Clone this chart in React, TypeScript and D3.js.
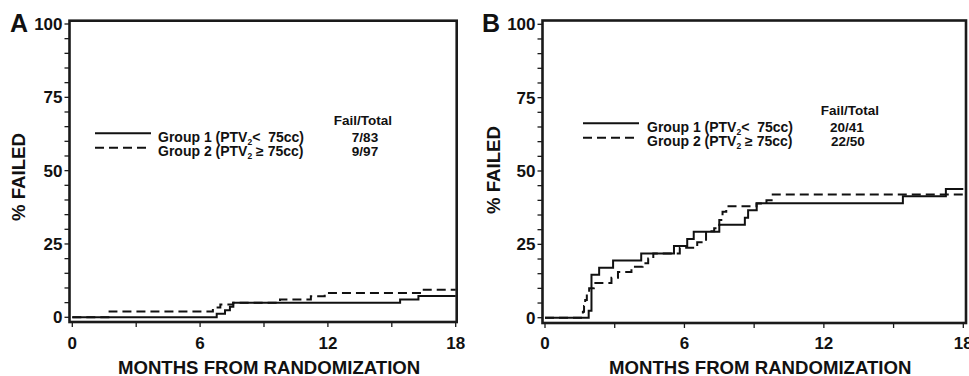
import React from "react";
import * as d3 from "d3";

// ---------- data ----------
const xTicksMajor = [0, 6, 12, 18];
const xTicksMinor = [0, 3, 6, 9, 12, 15, 18];
const yTicksMajor = [0, 25, 50, 75, 100];
const yTicksMinor = d3.range(0, 101, 5);

const groupLabels = ["Group 1 (PTV", "Group 2 (PTV"];
const groupTails = ["<  75cc)", " \u2265 75cc)"];

// Panel A (month, % failed)
const panelA_group1: [number, number][] = [
  [0, 0], [6.78, 1.2], [7.17, 2.4], [7.4, 3.6], [7.56, 5.0],
  [15.39, 6.1], [16.25, 7.3], [18, 7.3],
];
const panelA_group2: [number, number][] = [
  [0, 0], [1.75, 2.0], [6.6, 3.3], [6.95, 4.4], [7.55, 5.0],
  [9.75, 6.1], [11.2, 7.2], [11.85, 8.3], [16.5, 9.4], [18, 9.4],
];
const panelA_failTotal = ["7/83", "9/97"];

// Panel B
const panelB_group1: [number, number][] = [
  [0, 0], [1.88, 2.4], [2.0, 14.6], [2.33, 17.0], [2.93, 19.5],
  [4.14, 21.9], [5.55, 24.4], [6.12, 26.8], [6.4, 29.3], [7.5, 31.7],
  [8.6, 34.1], [8.74, 36.6], [9.11, 39.0], [15.4, 41.4], [17.25, 43.9],
  [18, 43.9],
];
const panelB_group2: [number, number][] = [
  [0, 0], [1.63, 2.0], [1.68, 4.0], [1.73, 6.0], [1.8, 8.0], [1.9, 10.0],
  [2.1, 11.8], [2.86, 13.6], [3.14, 15.6], [3.72, 17.4], [4.2, 18.6],
  [4.44, 20.2], [4.66, 21.9], [5.8, 23.8], [6.55, 25.7], [6.93, 29.5],
  [7.28, 30.5], [7.5, 33.3], [7.64, 36.1], [7.8, 38.0], [9.1, 38.9],
  [9.53, 40.0], [9.8, 42.0], [18, 42.0],
];
const panelB_failTotal = ["20/41", "22/50"];

const FONT = "'Liberation Sans', Arial, Helvetica, sans-serif";

type PanelProps = {
  letter: string;
  frame: { l: number; t: number; r: number; b: number };
  xr: [number, number];
  yr: [number, number];
  g1: [number, number][];
  g2: [number, number][];
  failTotal: string[];
  legend: { lineX: number; lineW1: number; lineW2: number; textX: number; base1: number; ftX: number; numX: number[] };
  letterX: number;
  ylabX: number;
  ylabY: number;
};

function Panel(p: PanelProps) {
  const x = d3.scaleLinear().domain([0, 18]).range(p.xr);
  const y = d3.scaleLinear().domain([0, 100]).range(p.yr);
  const line = d3
    .line<[number, number]>()
    .x((d) => x(d[0]))
    .y((d) => y(d[1]))
    .curve(d3.curveStepAfter);
  const f = p.frame;
  const lg = p.legend;
  const titleX = (f.l + f.r) / 2 + 6;
  return (
    <g fontFamily={FONT} fontWeight="bold" fill="#111">
      {/* curves */}
      <path d={line(p.g1) || ""} fill="none" stroke="#111" strokeWidth={2} />
      <path d={line(p.g2) || ""} fill="none" stroke="#111" strokeWidth={2} strokeDasharray="9,5" />
      {/* frame */}
      <rect x={f.l} y={f.t} width={f.r - f.l} height={f.b - f.t} fill="none" stroke="#1a1a1a" strokeWidth={2.6} />
      {/* y ticks */}
      {yTicksMinor.map((v) => (
        <line key={"yt" + v} x1={f.l - 5} x2={f.l} y1={y(v)} y2={y(v)} stroke="#1a1a1a" strokeWidth={1.3} />
      ))}
      {yTicksMajor.map((v) => (
        <text key={"yl" + v} x={f.l - 7} y={y(v)} dy="0.36em" textAnchor="end" fontSize={17}>
          {v}
        </text>
      ))}
      {/* x ticks */}
      {xTicksMinor.map((v) => (
        <line key={"xt" + v} x1={x(v)} x2={x(v)} y1={f.b} y2={f.b + 5} stroke="#1a1a1a" strokeWidth={1.3} />
      ))}
      {xTicksMajor.map((v) => (
        <text key={"xl" + v} x={x(v)} y={348.5} textAnchor="middle" fontSize={17}>
          {v}
        </text>
      ))}
      {/* titles */}
      <text x={titleX} y={373.5} textAnchor="middle" fontSize={18.6}>
        MONTHS FROM RANDOMIZATION
      </text>
      <text
        transform={`translate(${p.ylabX},${p.ylabY}) rotate(-90)`}
        textAnchor="middle"
        fontSize={18.6}
      >
        % FAILED
      </text>
      <text x={p.letterX} y={31.5} fontSize={25}>
        {p.letter}
      </text>
      {/* legend */}
      <line x1={lg.lineX} x2={lg.lineX + lg.lineW1} y1={lg.base1 - 8.7} y2={lg.base1 - 8.7} stroke="#111" strokeWidth={2} />
      <line
        x1={lg.lineX}
        x2={lg.lineX + lg.lineW2}
        y1={lg.base1 + 14 - 8.3}
        y2={lg.base1 + 14 - 8.3}
        stroke="#111"
        strokeWidth={2}
        strokeDasharray="9,5"
      />
      <text x={lg.ftX} y={lg.base1 - 17} textAnchor="middle" fontSize={13.5}>
        Fail/Total
      </text>
      {groupLabels.map((g, i) => (
        <text key={"g" + i} x={lg.textX} y={lg.base1 + i * 14} fontSize={14} style={{ whiteSpace: "pre" }}>
          {g}
          <tspan fontSize={8.5} dy={3}>2</tspan>
          <tspan dy={-3}>{groupTails[i]}</tspan>
        </text>
      ))}
      {p.failTotal.map((t, i) => (
        <text key={"ft" + i} x={lg.numX[i]} y={lg.base1 + i * 14} textAnchor="middle" fontSize={13.5}>
          {t}
        </text>
      ))}
    </g>
  );
}

export default function App() {
  return (
    <svg
      width={969}
      height={376}
      viewBox="0 0 969 376"
      style={{ position: "absolute", left: 0, top: 0, background: "#fff" }}
    >
      <rect x={0} y={0} width={969} height={376} fill="#fff" />
      <Panel
        letter="A"
        frame={{ l: 69.5, t: 20.7, r: 456.7, b: 322 }}
        xr={[72.3, 455.7]}
        yr={[317.3, 24]}
        g1={panelA_group1}
        g2={panelA_group2}
        failTotal={panelA_failTotal}
        legend={{ lineX: 95, lineW1: 56, lineW2: 52, textX: 158, base1: 142, ftX: 363, numX: [365, 365] }}
        letterX={10}
        ylabX={25}
        ylabY={177}
      />
      <Panel
        letter="B"
        frame={{ l: 542.5, t: 20.5, r: 966, b: 323 }}
        xr={[545, 963.3]}
        yr={[317.7, 24.3]}
        g1={panelB_group1}
        g2={panelB_group2}
        failTotal={panelB_failTotal}
        legend={{ lineX: 583, lineW1: 56, lineW2: 51, textX: 647, base1: 132, ftX: 850, numX: [847, 848] }}
        letterX={482}
        ylabX={500}
        ylabY={170}
      />
    </svg>
  );
}
